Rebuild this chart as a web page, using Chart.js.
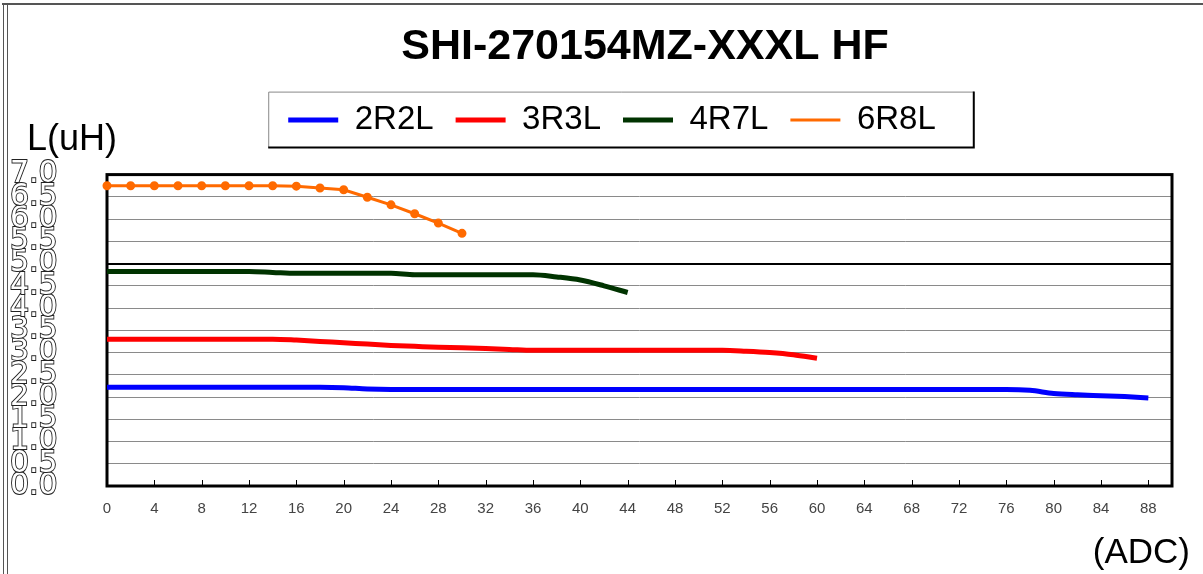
<!DOCTYPE html>
<html>
<head>
<meta charset="utf-8">
<script src="https://cdn.jsdelivr.net/npm/chart.js@4"></script>
<style>
	html, body { margin:0; padding:0; background:#fff; }
	#wrap { width:1203px; height:574px; }
</style>
</head>
<body>
<div id="wrap"><canvas id="myChart" width="1203" height="574"></canvas></div>
<script>

// 2R2L
var xBlue = [0,2,4,6,8,10,12,14,16,18,20,22,24,26,28,30,32,34,36,38,40,42,44,46,48,50,52,54,56,58,60,62,64,66,68,70,72,74,76,78,80,82,84,86,88];
var yBlue = [2.22,2.22,2.22,2.22,2.22,2.22,2.22,2.22,2.22,2.22,2.21,2.18,2.17,2.17,2.17,2.17,2.17,2.17,2.17,2.17,2.17,2.17,2.17,2.17,2.17,2.17,2.17,2.17,2.17,2.17,2.17,2.17,2.17,2.17,2.17,2.17,2.17,2.17,2.17,2.15,2.08,2.05,2.03,2.01,1.98];

// 3R3L
var xRed = [0,2,4,6,8,10,12,14,16,18,20,22,24,26,28,30,32,34,36,38,40,42,44,46,48,50,52,54,56,58,60];
var yRed = [3.30,3.30,3.30,3.30,3.30,3.30,3.30,3.30,3.28,3.25,3.22,3.19,3.16,3.14,3.12,3.11,3.09,3.07,3.05,3.05,3.05,3.05,3.05,3.05,3.05,3.05,3.05,3.03,3.00,2.95,2.87];

// 4R7L
var xGreen = [0,2,4,6,8,10,12,14,16,18,20,22,24,26,28,30,32,34,36,38,40,42,44];
var yGreen = [4.82,4.82,4.82,4.82,4.82,4.82,4.82,4.80,4.78,4.78,4.78,4.78,4.78,4.75,4.75,4.75,4.75,4.75,4.75,4.70,4.63,4.50,4.35];

// 6R8L
var xOrange = [0,2,4,6,8,10,12,14,16,18,20,22,24,26,28,30];
var yOrange = [6.75,6.75,6.75,6.75,6.75,6.75,6.75,6.75,6.74,6.70,6.66,6.49,6.32,6.12,5.91,5.68];

var xTicks = [0,4,8,12,16,20,24,28,32,36,40,44,48,52,56,60,64,68,72,76,80,84,88];

var names = ["2R2L","3R3L","4R7L","6R8L"];
var title = "SHI-270154MZ-XXXL HF";
var yLabel = "L(uH)";
var xLabel = "(ADC)";

var FONT = "'Liberation Sans', Arial, sans-serif";
var LEG_SHIFT = 21;

function pts(xs, ys){ return xs.map( (x,i)=>({ x:x, y:ys[i] }) ); }

// title and legend sit right of centre in the original; stretch legend so the plot starts lower
var shiftBoxes = {
	id: "shiftBoxes",
	beforeInit(chart){
		var lg = chart.legend;
		var fit = lg.fit;
		lg.fit = function(){ fit.call(lg); lg.height += 28; };
		var ld = lg.draw;
		lg.draw = function(a){ chart.ctx.save(); chart.ctx.translate(LEG_SHIFT,0); ld.call(lg,a); chart.ctx.restore(); };
		var tb = chart.titleBlock;
		var td = tb.draw;
		tb.draw = function(a){ chart.ctx.save(); chart.ctx.translate(54,0); td.call(tb,a); chart.ctx.restore(); };
	}
};

var decor = {
	id: "decor",
	beforeDraw(chart){
		var c = chart.ctx;
		c.save();
		c.fillStyle = "#fff"; c.fillRect(0,0,chart.width,chart.height);
		// outer frame
		c.strokeStyle = "#555"; c.lineWidth = 2;
		c.beginPath(); c.moveTo(2,4); c.lineTo(chart.width,4); c.stroke();
		c.lineWidth = 1;
		c.beginPath(); c.moveTo(3.5,4); c.lineTo(3.5,chart.height); c.stroke();
		c.beginPath(); c.moveTo(7.5,4); c.lineTo(7.5,chart.height); c.stroke();
		c.restore();
	},
	beforeDatasetsDraw(chart){
		var c = chart.ctx, a = chart.chartArea;
		c.save();
		c.strokeStyle = "#000"; c.lineWidth = 3;
		c.strokeRect(a.left, a.top, a.right-a.left, a.bottom-a.top);
		// inside tick marks on x
		var sx = chart.scales.x;
		c.lineWidth = 1;
		sx.ticks.forEach( t=>{
			var px = Math.round(sx.getPixelForValue(t.value))+0.5;
			c.beginPath(); c.moveTo(px,a.bottom); c.lineTo(px,a.bottom-6); c.stroke();
		});
		c.restore();
	},
	afterDraw(chart){
		var c = chart.ctx, a = chart.chartArea, lg = chart.legend;
		c.save();
		// legend frame
		var hb = lg.legendHitBoxes, last = hb[hb.length-1];
		var l = hb[0].left+LEG_SHIFT-20, r = last.left+LEG_SHIFT+last.width+38;
		var t = hb[0].top-12, b = hb[0].top+hb[0].height+11;
		c.strokeStyle = "#888"; c.lineWidth = 1;
		c.beginPath(); c.moveTo(l+0.5,b); c.lineTo(l+0.5,t+0.5); c.lineTo(r,t+0.5); c.stroke();
		c.strokeStyle = "#000"; c.lineWidth = 2;
		c.beginPath(); c.moveTo(r,t); c.lineTo(r,b); c.lineTo(l,b); c.stroke();
		// axis names
		c.fillStyle = "#000";
		c.textBaseline = "middle";
		c.textAlign = "left";
		c.font = "36px " + FONT;
		c.fillText(yLabel, 27, a.top-35);
		c.textAlign = "right";
		c.font = "35px " + FONT;
		c.fillText(xLabel, a.right+18, 553);
		c.restore();
	}
};

window.onload = ()=>{

	new Chart("myChart", {
		type: "line",
		data: {
			datasets: [
			{ label: names[0], data: pts(xBlue,yBlue), borderColor: "#0000ff", backgroundColor: "#0000ff", borderWidth: 5, pointRadius: 0, cubicInterpolationMode: "monotone", clip: false },
			{ label: names[1], data: pts(xRed,yRed), borderColor: "#ff0000", backgroundColor: "#ff0000", borderWidth: 5, pointRadius: 0, cubicInterpolationMode: "monotone", clip: false },
			{ label: names[2], data: pts(xGreen,yGreen), borderColor: "#003300", backgroundColor: "#003300", borderWidth: 5, pointRadius: 0, cubicInterpolationMode: "monotone", clip: false },
			{ label: names[3], data: pts(xOrange,yOrange), borderColor: "#ff6a00", backgroundColor: "#ff6a00", borderWidth: 3, pointRadius: 3, pointStyle: "circle", tension: 0, clip: false },
		]},
		options: {
			responsive: false,
			animation: false,
			layout: { padding: { left: 10, right: 31, top: 0, bottom: 0 } },
			plugins: {
				title: {
					display: true, text: title, color: "#000",
					font: { family: FONT, size: 43, weight: "bold" },
					padding: { top: 21, bottom: 9 }
				},
				legend: {
					display: true,
					labels: {
						usePointStyle: true, pointStyle: "line", pointStyleWidth: 50,
						color: "#000", padding: 22,
						font: { family: FONT, size: 33 }
					}
				},
				tooltip: { enabled: false }
			},
			scales: {
				x: {
					type: "linear", min: 0, max: 90,
					afterFit: (s)=>{ s.height = 88; },
					afterBuildTicks: (s)=>{ s.ticks = xTicks.map( v=>({ value:v }) ); },
					grid: { display: false, drawTicks: false },
					border: { display: false },
					ticks: {
						padding: 14, color: "#444", maxRotation: 0, autoSkip: false,
						font: { family: FONT, size: 15 }
					}
				},
				y: {
					min: 0, max: 7,
					afterFit: (s)=>{ s.width = 97; },
					grid: {
						drawTicks: false,
						color: (ctx)=> ctx.tick && ctx.tick.value===5 ? "#000" : "#8a8a8a",
						lineWidth: (ctx)=> ctx.tick && ctx.tick.value===5 ? 2 : 1
					},
					border: { display: false },
					ticks: {
						stepSize: 0.5, autoSkip: false, crossAlign: "far", padding: 0,
						color: "#fff", textStrokeColor: "#222", textStrokeWidth: 1.8,
						font: { family: "'DejaVu Sans', sans-serif", size: 30 },
						callback: (v)=> v.toFixed(1)
					}
				}
			}
		},
		plugins: [shiftBoxes, decor]
	});

}
</script>
</body>
</html>
